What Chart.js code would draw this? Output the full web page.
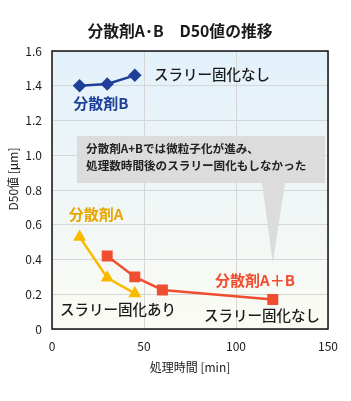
<!DOCTYPE html>
<html>
<head>
<meta charset="utf-8">
<script src="https://cdn.jsdelivr.net/npm/chart.js@4"></script>
<style>
  html, body { margin: 0; padding: 0; background: #fff; }
  #wrap { width: 351px; height: 401px; }
</style>
</head>
<body>
<div id="wrap"><canvas id="d50Chart" width="351" height="401"></canvas></div>
<script>
// データ
const timesB = [15, 30, 45];
const d50B = [1.40, 1.41, 1.46];
const timesA = [15, 30, 45];
const d50A = [0.53, 0.295, 0.205];
const timesAB = [30, 45, 60, 120];
const d50AB = [0.42, 0.30, 0.225, 0.17];
const xTicks = [0, 50, 100, 150];
const yTicks = [0, 0.2, 0.4, 0.6, 0.8, 1, 1.2, 1.4, 1.6];

const FONT = '"Noto Sans CJK JP", "Noto Sans", sans-serif';

const toPts = (xs, ys) => xs.map((x, i) => ({ x: x, y: ys[i] }));

// 背景・吹き出し・ラベル
const decor = {
    id: 'decor',
    beforeDraw(chart) {
        const { ctx, chartArea: a } = chart;
        const g = ctx.createLinearGradient(0, a.top, 0, a.bottom);
        g.addColorStop(0, '#e3f1fb');
        g.addColorStop(1, '#fbfbf3');
        ctx.save();
        ctx.fillStyle = g;
        ctx.fillRect(a.left, a.top, a.right - a.left, a.bottom - a.top);
        ctx.restore();
    },
    beforeDatasetsDraw(chart) {
        const { ctx, chartArea: a } = chart;
        const x = chart.scales.x, y = chart.scales.y;
        ctx.save();
        // 吹き出し
        ctx.fillStyle = '#dcdcdc';
        const bx1 = x.getPixelForValue(13.6), bx2 = x.getPixelForValue(148.4);
        const by1 = y.getPixelForValue(1.111), by2 = y.getPixelForValue(0.84);
        ctx.fillRect(bx1, by1, bx2 - bx1, by2 - by1);
        ctx.beginPath();
        ctx.moveTo(x.getPixelForValue(114.1), by2);
        ctx.lineTo(x.getPixelForValue(126.6), by2);
        ctx.lineTo(x.getPixelForValue(120), y.getPixelForValue(0.38));
        ctx.closePath();
        ctx.fill();
        ctx.fillStyle = '#222';
        ctx.font = 'bold 11.6px ' + FONT;
        ctx.textAlign = 'left';
        ctx.textBaseline = 'middle';
        ctx.fillText('分散剤A+Bでは微粒子化が進み、', x.getPixelForValue(18.5), y.getPixelForValue(1.036));
        ctx.fillText('処理数時間後のスラリー固化もしなかった', x.getPixelForValue(18.5), y.getPixelForValue(0.938));
        // 枠
        ctx.strokeStyle = '#111';
        ctx.lineWidth = 1.5;
        ctx.strokeRect(a.left, a.top, a.right - a.left, a.bottom - a.top);
        ctx.restore();
    },
    afterDraw(chart) {
        const { ctx } = chart;
        const x = chart.scales.x, y = chart.scales.y;
        const labels = [
            ['スラリー固化なし', 87, 1.462, '#1a1a1a', '500 14.5px'],
            ['分散剤B', 26.6, 1.30, '#1f3f99', 'bold 15px'],
            ['分散剤A', 23.9, 0.662, '#e8a600', 'bold 15px'],
            ['スラリー固化あり', 35.9, 0.115, '#1a1a1a', '500 14.5px'],
            ['分散剤A＋B', 110.3, 0.282, '#f04e30', 'bold 15px'],
            ['スラリー固化なし', 114.1, 0.075, '#1a1a1a', '500 14.5px']
        ];
        ctx.save();
        ctx.textAlign = 'center';
        ctx.textBaseline = 'middle';
        labels.forEach(l => {
            ctx.fillStyle = l[3];
            ctx.font = l[4] + ' ' + FONT;
            ctx.fillText(l[0], x.getPixelForValue(l[1]), y.getPixelForValue(l[2]));
        });
        // タイトル
        ctx.fillStyle = '#1a1a1a';
        ctx.font = 'bold 15.8px ' + FONT;
        ctx.fillText('分散剤A･B　D50値の推移', 180, 31);
        // 軸タイトル
        ctx.font = '12px ' + FONT;
        ctx.fillText('処理時間 [min]', (chart.chartArea.left + chart.chartArea.right) / 2, 367);
        ctx.translate(13, 179);
        ctx.rotate(-Math.PI / 2);
        ctx.fillText('D50値 [μm]', 0, 0);
        ctx.restore();
    }
};

new Chart(document.getElementById('d50Chart'), {
    type: 'line',
    data: {
        datasets: [
            { label: '分散剤B', data: toPts(timesB, d50B), borderColor: '#1f3f99', backgroundColor: '#1f3f99',
              pointStyle: 'rectRot', pointRadius: 5, borderWidth: 2.5 },
            { label: '分散剤A', data: toPts(timesA, d50A), borderColor: '#fbb900', backgroundColor: '#fbb900',
              pointStyle: 'triangle', pointRadius: 5, borderWidth: 2.5 },
            { label: '分散剤A+B', data: toPts(timesAB, d50AB), borderColor: '#f04e30', backgroundColor: '#f04e30',
              pointStyle: 'rect', pointRadius: 6, borderWidth: 2.5 }
        ]
    },
    options: {
        responsive: false,
        animation: false,
        layout: { padding: { top: 51, right: 23, left: 0, bottom: 0 } },
        plugins: { legend: { display: false }, tooltip: { enabled: false } },
        scales: {
            x: {
                type: 'linear', min: 0, max: 150,
                afterBuildTicks: s => { s.ticks = xTicks.map(v => ({ value: v })); },
                afterFit: s => { s.height = 72; },
                grid: { color: '#d6d6d6', drawTicks: false },
                border: { display: false },
                ticks: { color: '#1a1a1a', font: { family: FONT, size: 12 }, padding: 10 }
            },
            y: {
                min: 0, max: 1.6,
                afterBuildTicks: s => { s.ticks = yTicks.map(v => ({ value: v })); },
                afterFit: s => { s.width = 52; },
                grid: { color: '#d6d6d6', drawTicks: false },
                border: { display: false },
                ticks: { color: '#1a1a1a', font: { family: FONT, size: 12 }, padding: 10 }
            }
        }
    },
    plugins: [decor]
});
</script>
</body>
</html>
